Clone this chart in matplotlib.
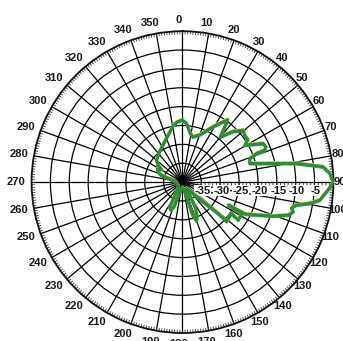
import matplotlib.pyplot as plt
import matplotlib.transforms as mtransforms
import numpy as np

# Measured antenna pattern, azimuth in degrees (clockwise from north) and gain in dB
ANGLES_DEG = [
    0, 4, 9, 13, 20, 29, 36, 40, 45, 49.5, 53, 57, 59.4, 64.4, 67, 68.8, 68.9,
    70.7, 74.5, 77, 80.7, 83.8, 86.6, 90, 93, 97.5, 99.5, 101.4, 103.4, 105,
    107.3, 110.6, 113.6, 117, 116.7, 117.5, 124.3, 122.5, 131.9, 131.3, 134,
    140, 148, 153, 157, 160, 163, 168, 180, 195, 199, 203, 207, 212, 220, 240,
    260, 280, 288, 293, 297, 301, 305, 310, 325, 335, 343, 351, 355, 359, 360,
]
GAIN_DB = [
    -23.6, -24.4, -26.9, -27.7, -26.7, -23.2, -19.6, -24.4, -21.0, -18.8, -19.4,
    -19.3, -20.8, -16.3, -16.0, -16.6, -18.9, -21.1, -21.5, -18.0, -9.4, -2.5,
    -0.9, 0.0, -1.3, -3.3, -5.8, -9.2, -10.3, -9.6, -10.6, -14.4, -18.2, -21.4,
    -26.4, -22.2, -22.1, -24.6, -24.3, -26.8, -33.0, -37.0, -38.0, -32.5, -30.0,
    -29.0, -31.0, -38.0, -38.5, -37.0, -33.0, -32.0, -32.5, -37.0, -38.5, -38.5,
    -38.5, -37.5, -34.0, -33.0, -32.5, -33.5, -32.0, -31.0, -29.7, -28.5, -27.0,
    -24.7, -24.0, -23.6, -23.6,
]

R_MIN, R_MAX = -40, 0
RING_LEVELS = [-35, -30, -25, -20, -15, -10, -5]
RING_LABELS = ["-35", "-30", "-25", "-20", "-15", "-10", "-5"]
SPOKE_ANGLES = list(range(0, 360, 10))
SPOKE_LABELS = [str(a) for a in SPOKE_ANGLES]

TRACE_GREEN = "#2a8f2e"
FRINGE_YELLOW = "#e6dc5a"
FRINGE_BLUE = "#4f8fc4"
LABEL_FONT = dict(fontsize=8, family="Liberation Sans", fontweight="bold", color="#1a1a1a")


def setup_axes(fig):
    ax = fig.add_axes([0.092, 0.023, 0.880, 0.886], projection="polar")
    ax.set_theta_zero_location("N")
    ax.set_theta_direction(-1)
    ax.set_ylim(R_MIN, R_MAX)
    ax.set_thetagrids(SPOKE_ANGLES, labels=[""] * len(SPOKE_ANGLES))
    ax.set_rgrids(RING_LEVELS, labels=[""] * len(RING_LEVELS))
    ax.grid(True, color="black", linewidth=0.9)
    ax.tick_params(length=0)
    ax.spines["polar"].set_color("#111111")
    ax.spines["polar"].set_linewidth(1.3)
    ax.set_facecolor("white")
    return ax


def draw_scale_ticks(ax):
    # fine degree ticks just inside the rim
    for deg in range(360):
        t = np.deg2rad(deg)
        ax.plot([t, t], [R_MAX - 0.85, R_MAX], color="#333333", lw=0.6,
                solid_capstyle="butt", zorder=2)
    # dB ticks along the 90 degree spoke
    for db in range(R_MIN + 1, R_MAX):
        ax.annotate("", xy=(np.pi / 2, db), xytext=(0, -2.2), textcoords="offset points",
                    arrowprops=dict(arrowstyle="-", lw=0.6, color="#222222",
                                    shrinkA=0, shrinkB=0))


def draw_labels(ax):
    r_pad = 11.0 / 151.0
    for ang, label in zip(SPOKE_ANGLES, SPOKE_LABELS):
        t = np.deg2rad(ang)
        x = 0.5 + 0.5 * (1 + r_pad) * np.sin(t)
        y = 0.5 + 0.5 * (1 + r_pad) * np.cos(t)
        ax.annotate(label, xy=(x, y), xycoords="axes fraction", xytext=(-3, 0),
                    textcoords="offset points", ha="center", va="center",
                    annotation_clip=False, **LABEL_FONT)
    for level, label in zip(RING_LEVELS, RING_LABELS):
        ax.annotate(label, xy=(np.pi / 2, level), xytext=(1, -2.5),
                    textcoords="offset points", ha="center", va="top",
                    bbox=dict(boxstyle="square,pad=0.05", fc="white", ec="none"),
                    zorder=3, **LABEL_FONT)


def draw_pattern(ax):
    theta = np.deg2rad(ANGLES_DEG)
    base = ax.transData
    up = mtransforms.offset_copy(base, fig=ax.figure, x=0, y=1.0, units="dots")
    down = mtransforms.offset_copy(base, fig=ax.figure, x=0, y=-1.0, units="dots")
    ax.plot(theta, GAIN_DB, color=FRINGE_YELLOW, lw=1.8, transform=up, zorder=4)
    ax.plot(theta, GAIN_DB, color=FRINGE_BLUE, lw=1.6, transform=down, zorder=4)
    ax.plot(theta, GAIN_DB, color=TRACE_GREEN, lw=2.3, zorder=5,
            solid_joinstyle="round")


def main():
    fig = plt.figure(figsize=(3.43, 3.41), dpi=100)
    fig.patch.set_facecolor("white")
    ax = setup_axes(fig)
    draw_scale_ticks(ax)
    draw_labels(ax)
    draw_pattern(ax)
    fig.savefig("out.png", dpi=100, facecolor="white")


if __name__ == "__main__":
    main()
